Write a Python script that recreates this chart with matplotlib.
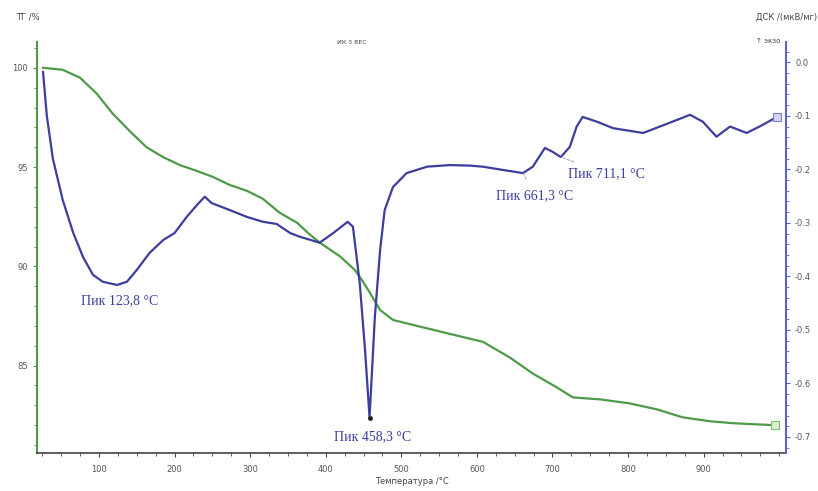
import matplotlib.pyplot as plt
from matplotlib.ticker import MultipleLocator, FormatStrFormatter

# TG curve (mass, %)
tg_temp = [26, 52, 75, 97, 118, 141, 163, 185, 207, 230, 251, 273, 296, 317,
           339, 362, 379, 392, 419, 439, 448, 458, 472, 489, 521, 564, 608,
           644, 674, 706, 727, 763, 802, 838, 872, 908, 939, 994]
tg_mass = [100.0, 99.9, 99.5, 98.7, 97.7, 96.8, 96.0, 95.5, 95.1, 94.8, 94.5,
           94.1, 93.8, 93.4, 92.7, 92.2, 91.6, 91.2, 90.5, 89.8, 89.3, 88.7,
           87.8, 87.3, 87.0, 86.6, 86.2, 85.4, 84.6, 83.9, 83.4, 83.3, 83.1,
           82.8, 82.4, 82.2, 82.1, 82.0]

# DSC curve (mkV/mg)
dsc_temp = [26, 31, 39, 52, 66, 79, 92, 105, 124, 137, 150, 167, 185, 200,
            216, 230, 240, 249, 273, 296, 317, 335, 353, 366, 392, 410, 429,
            436, 445, 452, 458, 465, 472, 478, 489, 507, 534, 564, 591, 608,
            634, 661, 674, 690, 700, 711, 723, 732, 740, 759, 780, 820, 855,
            882, 899, 917, 935, 957, 978, 997]
dsc_value = [-0.018, -0.10, -0.18, -0.257, -0.319, -0.364, -0.397, -0.410,
             -0.416, -0.410, -0.388, -0.356, -0.332, -0.319, -0.289, -0.266,
             -0.251, -0.263, -0.276, -0.289, -0.298, -0.302, -0.319, -0.326,
             -0.337, -0.319, -0.298, -0.307, -0.412, -0.537, -0.664, -0.476,
             -0.35, -0.276, -0.233, -0.207, -0.195, -0.192, -0.193, -0.195,
             -0.201, -0.207, -0.195, -0.16, -0.167, -0.177, -0.158, -0.12,
             -0.102, -0.111, -0.123, -0.132, -0.113, -0.098, -0.111, -0.139,
             -0.12, -0.132, -0.117, -0.102]

# peaks on the DSC curve: (temperature, value, label)
peak_temp = [123.8, 458.3, 661.3, 711.1]
peak_value = [-0.416, -0.664, -0.207, -0.177]
peak_labels = ['Пик 123,8 °C', 'Пик 458,3 °C', 'Пик 661,3 °C', 'Пик 711,1 °C']

green = '#4e9a48'
blue = '#3d3d9e'
tick_grey = '#555555'

fig = plt.figure(figsize=(8.18, 4.91), dpi=100)
ax = fig.add_axes([37 / 818, 1 - 453 / 491, 749 / 818, 411 / 491])
ax2 = ax.twinx()

ax.plot(tg_temp, tg_mass, color=green, lw=1.6, marker='s', markevery=[-1],
        ms=6, mfc='#dcefd4', mec='#7fbf6f', mew=0.8)
ax2.plot(dsc_temp, dsc_value, color=blue, lw=1.6, marker='s', markevery=[-1],
         ms=6, mfc='#d6d6f4', mec='#7a7acc', mew=0.8)

ax.set_xlim(18, 1009)
ax.set_ylim(80.6, 101.3)
ax2.set_ylim(-0.730, 0.038)

ax.xaxis.set_major_locator(MultipleLocator(100))
ax.xaxis.set_minor_locator(MultipleLocator(25))
ax.yaxis.set_major_locator(MultipleLocator(5))
ax.yaxis.set_minor_locator(MultipleLocator(1))
ax2.yaxis.set_major_locator(MultipleLocator(0.1))
ax2.yaxis.set_minor_locator(MultipleLocator(0.02))
ax2.yaxis.set_major_formatter(FormatStrFormatter('%.1f'))
ax.set_xticks([100, 200, 300, 400, 500, 600, 700, 800, 900])

for a in (ax, ax2):
    a.spines['top'].set_visible(False)
    a.tick_params(which='both', labelsize=6, labelcolor=tick_grey)
    a.tick_params(which='major', length=3)
    a.tick_params(which='minor', length=2)
ax.spines['left'].set_color(green)
ax.spines['left'].set_linewidth(1.5)
ax.tick_params(axis='y', which='both', color=green)
ax2.spines['right'].set_color('#6060cc')
ax2.spines['right'].set_linewidth(1.5)
ax2.spines['left'].set_visible(False)
ax2.spines['bottom'].set_visible(False)
ax2.tick_params(axis='y', which='both', color='#6060cc')
ax.spines['bottom'].set_color('#444444')
ax.spines['bottom'].set_linewidth(1.2)
ax.spines['right'].set_visible(False)
ax.tick_params(axis='x', which='both', color='#444444', pad=6)

ax.set_xlabel('Температура /°C', fontsize=6, color='#444444', labelpad=2)

# peak labels
offsets = [(3, -16), (3, -19), (11, -23), (46, -17)]
for t, v, lab, off in zip(peak_temp, peak_value, peak_labels, offsets):
    leader = off[0] > 5
    ax2.annotate(lab, xy=(t, v), xytext=off, textcoords='offset pixels',
                 ha='center', va='center', fontsize=10, color=blue,
                 family='Liberation Serif',
                 arrowprops=dict(arrowstyle='-', color='#999999', lw=0.6,
                                 ls='--', shrinkA=6, shrinkB=0) if leader else None)
ax2.plot(peak_temp[1], peak_value[1], 'o', color='#222222', ms=2.5)

fig.text(28 / 818, 1 - 17 / 491, 'ТГ /%', fontsize=6, color='#444444',
         ha='center', va='center')
fig.text(817 / 818, 1 - 17 / 491, 'ДСК /(мкВ/мг)', fontsize=6,
         color='#444444', ha='right', va='center')
fig.text(780 / 818, 1 - 41 / 491, '↑ экзо', fontsize=5, color='#444444',
         ha='right', va='center')
fig.text(352 / 818, 1 - 43 / 491, 'ИК 3 ВЕС', fontsize=4.5, color='#444444',
         ha='center', va='center')

fig.savefig('out.png', dpi=100, facecolor='white')
